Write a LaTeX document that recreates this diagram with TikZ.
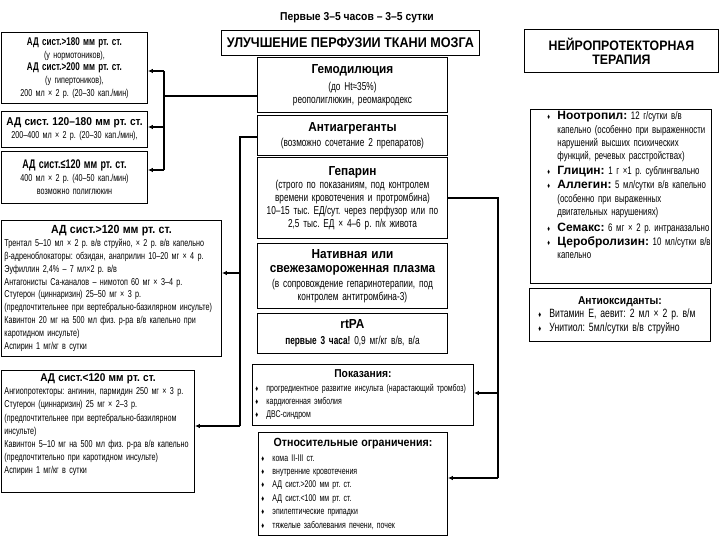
\documentclass[tikz,border=0pt]{standalone}
\usepackage{fontspec}
\setmainfont{Liberation Sans}[FakeStretch=0.72]
\newfontfamily\headfont{Liberation Sans}[FakeStretch=0.9]
\newfontfamily\drugfamily{Liberation Sans}
\usetikzlibrary{arrows.meta,positioning}

\newcommand{\adhead}[1][11.8]{\headfont\bfseries\fontsize{#1}{13}\selectfont}
\newcommand{\adbold}[1][10.9]{\bfseries\fontsize{#1}{13}\selectfont}
\newcommand{\midhead}{\headfont\bfseries\fontsize{13.1}{15}\selectfont}
\newcommand{\boxhead}{\headfont\bfseries\fontsize{11.4}{14}\selectfont}
\newcommand{\diam}{\makebox[11pt][l]{\fontsize{8}{8}\selectfont ♦}}
\newcommand{\drug}[2]{\hspace*{16pt}\mbox{\makebox[10pt][l]{\fontsize{7.5}{8}\selectfont ♦}{\drugfamily\bfseries\fontsize{12}{13}\selectfont #1} #2}}
\newcommand{\cont}[1]{\hspace*{26pt}\mbox{#1}}

\tikzset{
  box/.style={draw, line width=0.9pt, anchor=north west, inner xsep=3pt, inner ysep=2pt},
  link/.style={line width=1.6pt},
  arr/.style={line width=1.6pt, -{Latex[length=5pt,width=4.5pt]}},
  smallfont/.style={font=\fontsize{10}{12.8}\selectfont},
  listfont/.style={font=\fontsize{9.7}{13.4}\selectfont},
  midfont/.style={font=\fontsize{11.5}{12.8}\selectfont},
}

\begin{document}
\frenchspacing
\begin{tikzpicture}[x=1pt, y=-1pt]
\useasboundingbox (0,0) rectangle (720,540);

% header
\node[font=\headfont\bfseries\fontsize{11.5}{12}\selectfont] (period) at (357,18) {Первые 3–5 часов – 3–5 сутки};
\node[box, minimum width=258pt, minimum height=25pt, font=\headfont\bfseries\fontsize{14}{16}\selectfont] (title) at (221,30) {УЛУЧШЕНИЕ ПЕРФУЗИИ ТКАНИ МОЗГА};

% center column
\node[box, text width=184pt, minimum height=55pt, align=center, midfont] (hemo) at (257,57)
  {{\midhead Гемодилюция}\\[4pt](до Ht≈35\%)\\реополиглюкин, реомакродекс};
\node[box, text width=184pt, minimum height=40pt, align=center, midfont] (antiagr) at (257,115)
  {{\midhead Антиагреганты}\\[2pt](возможно сочетание 2 препаратов)};
\node[box, text width=186pt, inner xsep=2pt, minimum height=81pt, align=center, midfont] (hep) at (257,157)
  {{\midhead Гепарин}\\[1pt](строго по показаниям, под контролем\\времени кровотечения и протромбина)\\10–15 тыс. ЕД/сут. через перфузор или по\\2,5 тыс. ЕД × 4–6 р. п/к живота};
\node[box, text width=184pt, minimum height=65pt, align=center, midfont] (plasma) at (257,243)
  {{\midhead Нативная или\\[2pt]свежезамороженная плазма}\\[2pt](в сопровождение гепаринотерапии, под\\контролем антитромбина-3)};
\node[box, text width=184pt, minimum height=40pt, align=center, midfont] (rtpa) at (257,313)
  {{\midhead rtPA}\\[3pt]{\bfseries первые 3 часа!} 0,9 мг/кг в/в, в/а};
\node[box, text width=215pt, minimum height=61pt, align=left, listfont] (indic) at (252,364)
  {\makebox[\linewidth]{\boxhead Показания:}\\
   \diam прогредиентное развитие инсульта (нарастающий тромбоз)\\
   \diam кардиогенная эмболия\\
   \diam ДВС-синдром};
\node[box, text width=183pt, minimum height=103pt, align=left, listfont] (limits) at (258,432)
  {\makebox[\linewidth]{\headfont\bfseries\fontsize{11.8}{14}\selectfont Относительные ограничения:}\\[1pt]
   \diam кома II-III ст.\\
   \diam внутренние кровотечения\\
   \diam АД сист.>200 мм рт. ст.\\
   \diam АД сист.<100 мм рт. ст.\\
   \diam эпилептические припадки\\
   \diam тяжелые заболевания печени, почек};

% left column
\node[box, text width=140pt, minimum height=71pt, align=center, smallfont] (ad1) at (1,32)
  {{\adbold[11.2]АД сист.>180 мм рт. ст.}\\(у нормотоников),\\{\adbold[11.2]АД сист.>200 мм рт. ст.}\\(у гипертоников),\\200 мл × 2 р. (20–30 кап./мин)};
\node[box, text width=140pt, minimum height=36pt, align=center, smallfont] (ad2) at (1,111)
  {\makebox[\linewidth]{\adhead[11.3]АД сист. 120–180 мм рт. ст.}\\200–400 мл × 2 р. (20–30 кап./мин),};
\node[box, text width=140pt, minimum height=52pt, align=center, smallfont] (ad3) at (1,151)
  {{\adbold[12.5]АД сист.≤120 мм рт. ст.}\\400 мл × 2 р. (40–50 кап./мин)\\возможно полиглюкин};
\node[box, text width=214pt, minimum height=136pt, align=left, smallfont] (ad4) at (1,220)
  {\makebox[\linewidth]{\adhead АД сист.>120 мм рт. ст.}\\
   Трентал 5–10 мл × 2 р. в/в струйно, × 2 р. в/в капельно\\
   β-адреноблокаторы: обзидан, анаприлин 10–20 мг × 4 р.\\
   Эуфиллин 2,4\% – 7 мл×2 р. в/в\\
   Антагонисты Ca-каналов – нимотоп 60 мг × 3–4 р.\\
   Стугерон (циннаризин) 25–50 мг × 3 р.\\
   (предпочтительнее при вертебрально-базилярном инсульте)\\
   Кавинтон 20 мг на 500 мл физ. р-ра в/в капельно при\\
   каротидном инсульте)\\
   Аспирин 1 мг/кг в сутки};
\node[box, text width=187pt, minimum height=122pt, align=left, font=\fontsize{10}{13.2}\selectfont] (ad5) at (1,370)
  {\makebox[\linewidth]{\adhead[11.2]АД сист.<120 мм рт. ст.}\\
   Ангиопротекторы: ангинин, пармидин 250 мг × 3 р.\\
   Стугерон (циннаризин) 25 мг × 2–3 р.\\
   (предпочтительнее при вертебрально-базилярном\\
   инсульте)\\
   Кавинтон 5–10 мг на 500 мл физ. р-ра в/в капельно\\
   (предпочтительно при каротидном инсульте)\\
   Аспирин 1 мг/кг в сутки\\[2pt]\mbox{}};

% right column
\node[box, minimum width=194pt, minimum height=43pt, align=center, font=\headfont\bfseries\fontsize{13.7}{14}\selectfont] (neuro) at (524,29)
  {НЕЙРОПРОТЕКТОРНАЯ\\ТЕРАПИЯ};
\node[box, text width=179pt, inner xsep=1pt, minimum height=174pt, align=left, font=\fontsize{10.9}{13.3}\selectfont] (neurolist) at (530,109)
  {\drug{Ноотропил:}{12 г/сутки в/в}\\
   \cont{капельно (особенно при выраженности}\\
   \cont{нарушений высших психических}\\
   \cont{функций, речевых расстройствах)}\\[1.5pt]
   \drug{Глицин:}{1 г ×1 р. сублингвально}\\[1pt]
   \drug{Аллегин:}{5 мл/сутки в/в капельно}\\
   \cont{(особенно при выраженных}\\
   \cont{двигательных нарушениях)}\\[2.5pt]
   \drug{Семакс:}{6 мг × 2 р. интраназально}\\[1pt]
   \drug{Церобролизин:}{10 мл/сутки в/в}\\
   \cont{капельно}\\[9pt]\mbox{}};
\node[box, text width=175pt, minimum height=53pt, align=left, font=\fontsize{12}{13.5}\selectfont] (antiox) at (529,288)
  {\makebox[\linewidth]{\boxhead Антиоксиданты:}\\
   \hspace*{6pt}\diam Витамин Е, аевит: 2 мл × 2 р. в/м\\
   \hspace*{6pt}\diam Унитиол: 5мл/сутки в/в струйно};

% connectors, left
\coordinate (lt) at (164,71);
\coordinate (lj) at (164,96);
\coordinate (lm) at (164,127);
\coordinate (lb) at (164,170);
\draw[link] (hemo.west |- lj) -- (lj);
\draw[link] (lt) -- (lb);
\draw[arr] (lt) -- (lt -| ad1.east);
\draw[arr] (lm) -- (lm -| ad2.east);
\draw[arr] (lb) -- (lb -| ad3.east);

\coordinate (mt) at (240,137);
\coordinate (mm) at (240,273);
\coordinate (mb) at (240,426);
\draw[link] (antiagr.west |- mt) -- (mt) -- (mb);
\draw[arr] (mm) -- (mm -| ad4.east);
\draw[arr] (mb) -- (mb -| ad5.east);

% connectors, right
\coordinate (rt) at (498,198);
\coordinate (rm) at (498,393);
\coordinate (rb) at (498,478);
\draw[link] (hep.east |- rt) -- (rt) -- (rb);
\draw[arr] (rm) -- (rm -| indic.east);
\draw[arr] (rb) -- (rb -| limits.east);
\end{tikzpicture}
\end{document}
